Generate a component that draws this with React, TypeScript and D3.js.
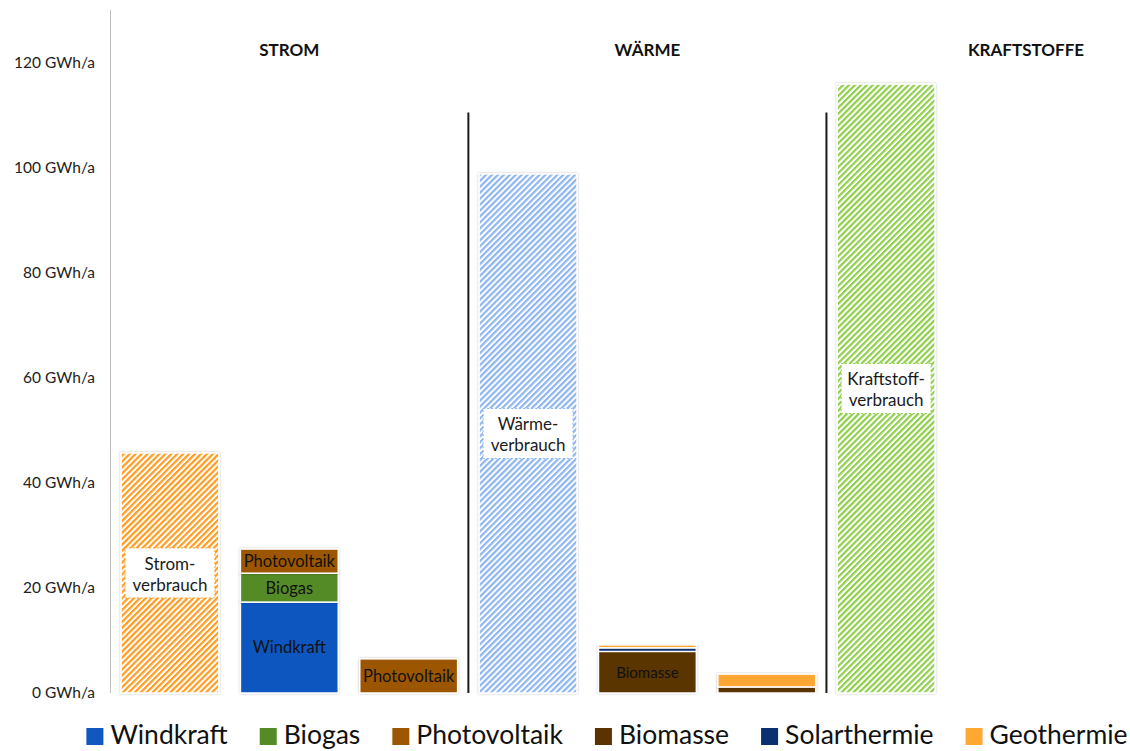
import React, { useEffect, useRef } from "react";
import * as d3 from "d3";

// Bar slots along the x axis (not labelled on the chart)
const categories = [
  "stromBedarf",
  "stromMix",
  "stromPV",
  "waermeBedarf",
  "waermeMix",
  "waermeGeo",
  "kraftstoffBedarf",
];

// Consumption totals (hatched bars), GWh/a
const verbrauch = [45.7, 0, 0, 98.8, 0, 0, 115.9];
const verbrauchLabels = [
  ["Strom-", "verbrauch"],
  null,
  null,
  ["Wärme-", "verbrauch"],
  null,
  null,
  ["Kraftstoff-", "verbrauch"],
];

// Renewable generation per source, GWh/a
const windkraft = [0, 17.3, 0, 0, 0, 0, 0];
const biogas = [0, 5.5, 0, 0, 0, 0, 0];
const photovoltaik = [0, 4.6, 6.5, 0, 0, 0, 0];
const biomasse = [0, 0, 0, 0, 7.9, 1.15, 0];
const solarthermie = [0, 0, 0, 0, 0.7, 0, 0];
const geothermie = [0, 0, 0, 0, 0.55, 2.45, 0];

const seriesNames = ["Windkraft", "Biogas", "Photovoltaik", "Biomasse", "Solarthermie", "Geothermie"];
const seriesColors = ["#1157C0", "#548B26", "#9C5700", "#5A3400", "#0B3070", "#FFA733"];
// Which segments carry an inline label
const segmentLabels: Record<string, string[]> = {
  stromMix: ["Windkraft", "Biogas", "Photovoltaik"],
  stromPV: ["Photovoltaik"],
  waermeMix: ["Biomasse"],
};

const yTicks = [0, 20, 40, 60, 80, 100, 120];
const sections = ["STROM", "WÄRME", "KRAFTSTOFFE"];
const separatorTop = 110.5;

const hatchColors = ["#FF9C22", null, null, "#8DB6F2", null, null, "#8FCF4C"];

const FONT = "Lato, 'Noto Sans', sans-serif";

export default function App() {
  const ref = useRef<SVGSVGElement | null>(null);

  useEffect(() => {
    const svg = d3.select(ref.current);
    svg.selectAll("*").remove();

    const x = d3
      .scaleBand<string>()
      .domain(categories)
      .range([110.3, 945.8])
      .paddingInner(0.18)
      .paddingOuter(0.09);
    const y = d3.scaleLinear().domain([0, 130]).range([693, 10]);
    const bw = x.bandwidth();

    const defs = svg.append("defs");
    const shadow = defs
      .append("filter")
      .attr("id", "glow")
      .attr("x", "-10%")
      .attr("y", "-10%")
      .attr("width", "120%")
      .attr("height", "120%");
    shadow
      .append("feDropShadow")
      .attr("dx", 0)
      .attr("dy", 0)
      .attr("stdDeviation", 1.3)
      .attr("flood-color", "#000")
      .attr("flood-opacity", 0.28);

    hatchColors.forEach((c, i) => {
      if (!c) return;
      const p = defs
        .append("pattern")
        .attr("id", `hatch${i}`)
        .attr("patternUnits", "userSpaceOnUse")
        .attr("width", 4.2)
        .attr("height", 4.2)
        .attr("patternTransform", "rotate(45)");
      p.append("rect").attr("width", 4.2).attr("height", 4.2).attr("fill", "#fff");
      p.append("rect").attr("width", 2.2).attr("height", 4.2).attr("fill", c);
    });

    // y axis
    svg
      .append("line")
      .attr("x1", 110.5)
      .attr("x2", 110.5)
      .attr("y1", y(130))
      .attr("y2", y(0))
      .attr("stroke", "#bfbfbf")
      .attr("stroke-width", 1);
    svg
      .append("g")
      .selectAll("text")
      .data(yTicks)
      .join("text")
      .attr("x", 95)
      .attr("y", (d) => y(d))
      .attr("dy", "0.35em")
      .attr("text-anchor", "end")
      .attr("font-family", FONT)
      .attr("font-size", 15.5)
      .attr("fill", "#222")
      .text((d) => `${d} GWh/a`);

    // hatched consumption bars
    const cons = svg.append("g");
    categories.forEach((cat, i) => {
      const v = verbrauch[i];
      if (!v) return;
      const x0 = x(cat)!;
      cons
        .append("rect")
        .attr("x", x0)
        .attr("y", y(v))
        .attr("width", bw)
        .attr("height", y(0) - y(v))
        .attr("fill", `url(#hatch${i})`)
        .attr("stroke", "#fff")
        .attr("stroke-width", 1.5)
        .attr("filter", "url(#glow)");
      const lab = verbrauchLabels[i];
      if (lab) {
        const cy = y(v / 2);
        cons
          .append("rect")
          .attr("x", x0 + 4)
          .attr("y", cy - 25)
          .attr("width", bw - 8)
          .attr("height", 50)
          .attr("fill", "#fff")
          .attr("stroke", hatchColors[i]!)
          .attr("stroke-width", 1)
          .attr("stroke-dasharray", "2,2");
        lab.forEach((t, k) => {
          cons
            .append("text")
            .attr("x", x0 + bw / 2)
            .attr("y", cy - 9 + k * 21)
            .attr("dy", "0.35em")
            .attr("text-anchor", "middle")
            .attr("font-family", FONT)
            .attr("font-size", 17)
            .attr("fill", "#1a1a1a")
            .text(t);
        });
      }
    });

    // stacked generation bars
    const table = categories.map((cat, i) => ({
      cat,
      Windkraft: windkraft[i],
      Biogas: biogas[i],
      Photovoltaik: photovoltaik[i],
      Biomasse: biomasse[i],
      Solarthermie: solarthermie[i],
      Geothermie: geothermie[i],
    }));
    const stacked = d3.stack<any>().keys(seriesNames)(table);
    const gen = svg.append("g");
    stacked.forEach((layer, si) => {
      layer.forEach((seg: any) => {
        const cat = seg.data.cat;
        const [a, b] = seg;
        if (b - a <= 0) return;
        const x0 = x(cat)!;
        gen
          .append("rect")
          .attr("x", x0)
          .attr("y", y(b))
          .attr("width", bw)
          .attr("height", y(a) - y(b))
          .attr("fill", seriesColors[si])
          .attr("stroke", "#fff")
          .attr("stroke-width", 1.5)
          .attr("filter", "url(#glow)");
        const labs = segmentLabels[cat];
        if (labs && labs.includes(seriesNames[si])) {
          gen
            .append("text")
            .attr("x", x0 + bw / 2)
            .attr("y", y((a + b) / 2))
            .attr("dy", "0.36em")
            .attr("text-anchor", "middle")
            .attr("font-family", FONT)
            .attr("font-size", seriesNames[si] === "Biomasse" ? 15 : 16.5)
            .attr("fill", "#111")
            .text(seriesNames[si]);
        }
      });
    });

    // section separators between band groups
    const step = x.step();
    [2, 5].forEach((i) => {
      const sx = x(categories[i])! + bw + (step - bw) / 2;
      svg
        .append("line")
        .attr("x1", sx)
        .attr("x2", sx)
        .attr("y1", y(separatorTop))
        .attr("y2", y(0))
        .attr("stroke", "#1a1a1a")
        .attr("stroke-width", 2);
    });

    // section titles
    const titleX = [x(categories[1])! + bw / 2, x(categories[4])! + bw / 2, 1026];
    sections.forEach((s, i) => {
      svg
        .append("text")
        .attr("x", titleX[i])
        .attr("y", 56)
        .attr("text-anchor", "middle")
        .attr("font-family", FONT)
        .attr("font-weight", "bold")
        .attr("font-size", 17)
        .attr("fill", "#111")
        .text(s);
    });

    // legend
    const lg = svg.append("g");
    const items = seriesNames.map((n, i) => {
      const g = lg.append("g");
      g.append("rect").attr("x", 0).attr("y", -16).attr("width", 17).attr("height", 17).attr("fill", seriesColors[i]);
      const t = g
        .append("text")
        .attr("x", 24)
        .attr("y", 0)
        .attr("font-family", FONT)
        .attr("font-size", 26.5)
        .attr("fill", "#111")
        .text(n);
      const w = 24 + (t.node() as SVGTextElement).getComputedTextLength();
      return { g, w };
    });
    const gap = 32;
    const total = d3.sum(items, (d) => d.w) + gap * (items.length - 1);
    let cx = 607 - total / 2;
    items.forEach((it) => {
      it.g.attr("transform", `translate(${cx},744)`);
      cx += it.w + gap;
    });
  }, []);

  return (
    <svg
      ref={ref}
      width={1130}
      height={751}
      style={{ position: "absolute", left: 0, top: 0, background: "#fff" }}
    />
  );
}
